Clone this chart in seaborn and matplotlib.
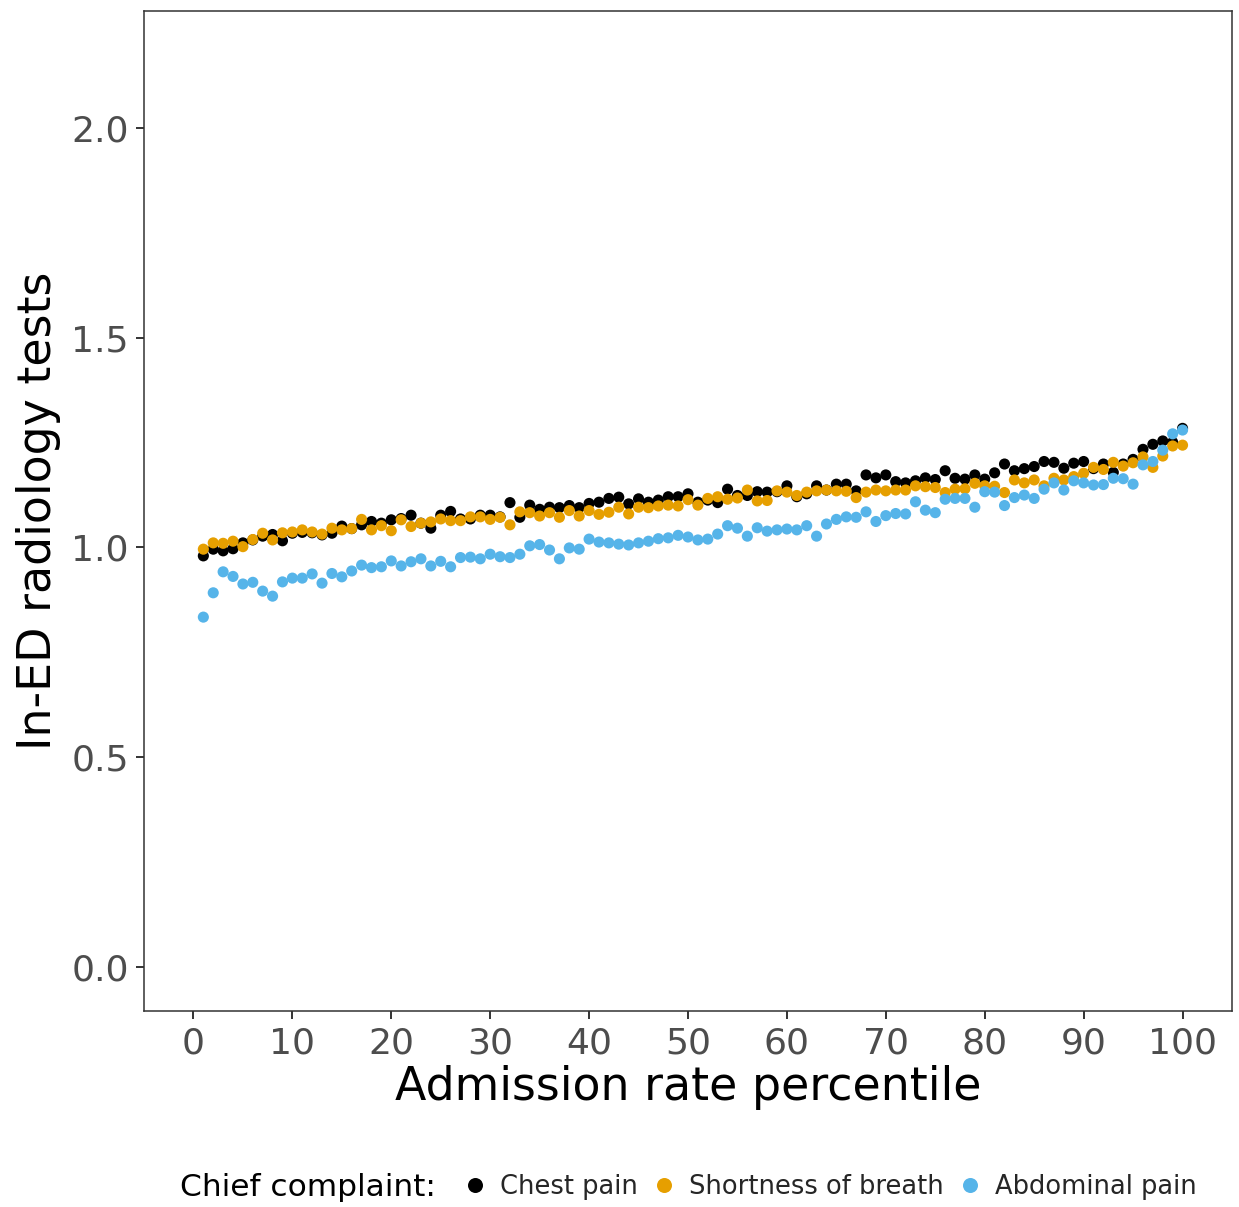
"""Radiology tests by admission rate percentile, split by chief complaint."""

import matplotlib
matplotlib.use("Agg")
import matplotlib.pyplot as plt
import seaborn as sns
import pandas as pd

percentile = list(range(1, 101))

chest_pain = [
    0.980, 0.996, 0.992, 0.997, 1.011, 1.018, 1.027, 1.031, 1.016, 1.034,
    1.036, 1.035, 1.030, 1.034, 1.051, 1.045, 1.054, 1.062, 1.058, 1.066,
    1.069, 1.077, 1.058, 1.046, 1.077, 1.086, 1.068, 1.068, 1.077, 1.077,
    1.073, 1.107, 1.072, 1.101, 1.091, 1.096, 1.095, 1.100, 1.095, 1.105,
    1.108, 1.117, 1.120, 1.104, 1.116, 1.108, 1.113, 1.121, 1.121, 1.128,
    1.108, 1.113, 1.107, 1.139, 1.124, 1.124, 1.133, 1.132, 1.133, 1.147,
    1.121, 1.128, 1.147, 1.137, 1.151, 1.151, 1.135, 1.173, 1.166, 1.173,
    1.157, 1.154, 1.159, 1.166, 1.162, 1.183, 1.165, 1.163, 1.173, 1.163,
    1.178, 1.199, 1.183, 1.188, 1.193, 1.205, 1.203, 1.189, 1.201, 1.205,
    1.188, 1.199, 1.179, 1.199, 1.210, 1.234, 1.246, 1.254, 1.251, 1.284,
]

shortness_of_breath = [
    0.996, 1.011, 1.010, 1.015, 1.002, 1.019, 1.034, 1.018, 1.035, 1.037,
    1.042, 1.037, 1.032, 1.046, 1.042, 1.045, 1.067, 1.042, 1.052, 1.040,
    1.066, 1.050, 1.058, 1.061, 1.068, 1.064, 1.064, 1.073, 1.073, 1.067,
    1.072, 1.054, 1.085, 1.083, 1.075, 1.083, 1.072, 1.088, 1.075, 1.088,
    1.079, 1.084, 1.096, 1.080, 1.096, 1.095, 1.099, 1.101, 1.099, 1.114,
    1.101, 1.117, 1.121, 1.115, 1.118, 1.137, 1.111, 1.112, 1.135, 1.132,
    1.124, 1.132, 1.135, 1.137, 1.135, 1.134, 1.119, 1.132, 1.137, 1.135,
    1.137, 1.137, 1.147, 1.145, 1.143, 1.131, 1.139, 1.140, 1.153, 1.147,
    1.146, 1.131, 1.161, 1.154, 1.161, 1.147, 1.165, 1.161, 1.169, 1.177,
    1.191, 1.186, 1.203, 1.194, 1.202, 1.216, 1.191, 1.218, 1.242, 1.244,
]

abdominal_pain = [
    0.834, 0.892, 0.942, 0.931, 0.913, 0.917, 0.896, 0.884, 0.918, 0.927,
    0.927, 0.937, 0.915, 0.938, 0.930, 0.944, 0.958, 0.952, 0.954, 0.968,
    0.956, 0.966, 0.973, 0.956, 0.967, 0.954, 0.976, 0.977, 0.973, 0.984,
    0.978, 0.976, 0.984, 1.004, 1.007, 0.994, 0.973, 0.999, 0.996, 1.020,
    1.013, 1.011, 1.008, 1.006, 1.011, 1.015, 1.021, 1.023, 1.029, 1.025,
    1.018, 1.020, 1.032, 1.052, 1.046, 1.027, 1.047, 1.039, 1.042, 1.044,
    1.042, 1.052, 1.027, 1.056, 1.067, 1.073, 1.072, 1.085, 1.062, 1.076,
    1.081, 1.080, 1.109, 1.089, 1.083, 1.115, 1.117, 1.117, 1.096, 1.133,
    1.132, 1.100, 1.119, 1.125, 1.117, 1.139, 1.154, 1.137, 1.159, 1.154,
    1.149, 1.150, 1.165, 1.164, 1.151, 1.197, 1.205, 1.232, 1.271, 1.280,
]

complaints = ["Chest pain", "Shortness of breath", "Abdominal pain"]
colors = ["#000000", "#E69F00", "#56B4E9"]

x_ticks = list(range(0, 101, 10))
y_ticks = [0.0, 0.5, 1.0, 1.5, 2.0]

df = pd.concat([
    pd.DataFrame({"percentile": percentile, "tests": vals, "complaint": name})
    for name, vals in zip(complaints, [chest_pain, shortness_of_breath, abdominal_pain])
])

sns.set_theme(style="white")
plt.rcParams["font.family"] = ["DejaVu Sans"]

fig = plt.figure(figsize=(12.39, 12.07), dpi=100)
ax = fig.add_axes([144 / 1239, 1 - 1011 / 1207, 1088 / 1239, 1000 / 1207])

sns.scatterplot(
    data=df, x="percentile", y="tests", hue="complaint",
    hue_order=complaints, palette=colors, s=64, linewidth=0, ax=ax,
)

ax.set_xlim(-5, 105)
ax.set_ylim(-0.105, 2.279)
ax.set_xticks(x_ticks)
ax.set_yticks(y_ticks)
ax.set_yticklabels([f"{v:.1f}" for v in y_ticks])

ax.tick_params(axis="both", which="major", direction="out", length=6, width=1.4,
               color="#333333", labelcolor="#4D4D4D", labelsize=26, pad=5,
               left=True, bottom=True)
for spine in ax.spines.values():
    spine.set_color("#333333")
    spine.set_linewidth(1.1)

ax.set_xlabel("Admission rate percentile", fontsize=33, color="black", va="center")
ax.xaxis.set_label_coords(0.5, -0.077)
ax.set_ylabel("In-ED radiology tests", fontsize=33, color="black", va="center")
ax.yaxis.set_label_coords(-0.0974, 0.5)

handles, labels = ax.get_legend_handles_labels()
ax.get_legend().remove()
fig.text(180 / 1239, 1 - 1187 / 1207, "Chief complaint:", fontsize=22.5,
         ha="left", va="center", color="black")
fig.legend(handles, labels, loc="center left",
           bbox_to_anchor=(467 / 1239, 1 - 1187 / 1207), ncol=3, frameon=False,
           fontsize=18.5, handlelength=0.6, handletextpad=0.68,
           columnspacing=0.71, borderpad=0, borderaxespad=0, markerscale=1.35)

fig.savefig("out.png", dpi=100)
plt.close(fig)
